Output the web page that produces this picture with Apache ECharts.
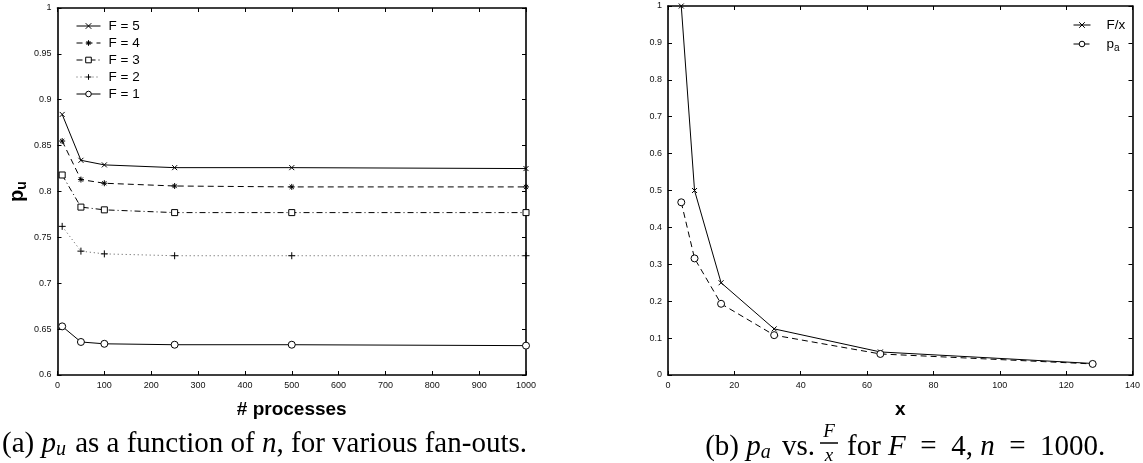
<!DOCTYPE html>
<html>
<head>
<meta charset="utf-8">
<script src="https://cdn.jsdelivr.net/npm/echarts@6/dist/echarts.min.js"></script>
<style>
html,body{margin:0;padding:0;background:#fff;}
#chart{width:1143px;height:463px;}
</style>
</head>
<body>
<div id="chart"></div>
<script>
// ---- Data (left panel: p_u vs number of processes) ----
const nProcesses = [10, 50, 100, 250, 500, 1000];
const puF5 = [0.884, 0.834, 0.829, 0.826, 0.826, 0.825];
const puF4 = [0.855, 0.813, 0.809, 0.806, 0.805, 0.805];
const puF3 = [0.818, 0.783, 0.780, 0.777, 0.777, 0.777];
const puF2 = [0.762, 0.735, 0.732, 0.730, 0.730, 0.730];
const puF1 = [0.653, 0.636, 0.634, 0.633, 0.633, 0.632];
const leftNames = ['F = 5', 'F = 4', 'F = 3', 'F = 2', 'F = 1'];

// ---- Data (right panel: p_a vs F/x) ----
const xVals = [4, 8, 16, 32, 64, 128];
const fOverX = [1, 0.5, 0.25, 0.125, 0.0625, 0.03125];
const paVals = [0.468, 0.316, 0.193, 0.108, 0.057, 0.030];
const rightNames = ['F/x', 'pa'];

const SANS = 'Liberation Sans, Arial, Helvetica, sans-serif';
const SERIF = 'Liberation Serif, Times New Roman, serif';

const pairs = (xs, ys) => xs.map((x, i) => [x, ys[i]]);

const SYM_X = 'path://M0,0L10,10M10,0L0,10';
const SYM_PLUS = 'path://M5,0L5,10M0,5L10,5';
const SYM_STAR = 'path://M5,0L5,10M0,5L10,5M1.5,1.5L8.5,8.5M8.5,1.5L1.5,8.5';
const SYM_SQUARE = 'path://M0,0L10,0L10,10L0,10Z';
const SYM_CIRCLE = 'path://M10,5A5,5,0,1,1,0,5A5,5,0,1,1,10,5Z';

const strokeSym = { color: 'rgba(0,0,0,0)', borderColor: '#000', borderWidth: 1 };
const hollowSym = { color: '#fff', borderColor: '#000', borderWidth: 1 };

function frameAxis(base, extra) {
  return Object.assign({
    type: 'value',
    axisLine: { show: true, onZero: false, lineStyle: { color: '#000', width: 1.6 } },
    axisTick: { show: true, inside: true, length: 4, lineStyle: { color: '#000', width: 1 } },
    splitLine: { show: false },
    axisLabel: { show: false }
  }, base, extra || {});
}
const tickLabel = {
  show: true, color: '#111', fontSize: 9, fontFamily: SANS, margin: 6,
  formatter: v => String(+(+v).toFixed(3))
};
const axisTitle = { fontFamily: SANS, fontWeight: 'bold', fontSize: 19, color: '#000' };

const chart = echarts.init(document.getElementById('chart'), null, { renderer: 'canvas' });

const option = {
  animation: false,
  backgroundColor: '#fff',
  grid: [
    { left: 57.5, right: 617, top: 8, bottom: 88 },
    { left: 668, right: 8, top: 6, bottom: 88 }
  ],
  xAxis: [
    frameAxis({ gridIndex: 0, position: 'bottom', min: 0, max: 1000, interval: 100 }, {
      axisLabel: tickLabel,
      name: '# processes', nameLocation: 'middle', nameGap: 25,
      nameTextStyle: Object.assign({ verticalAlign: 'top' }, axisTitle)
    }),
    frameAxis({ gridIndex: 0, position: 'top', min: 0, max: 1000, interval: 100 }),
    frameAxis({ gridIndex: 1, position: 'bottom', min: 0, max: 140, interval: 20 }, {
      axisLabel: tickLabel,
      name: 'x', nameLocation: 'middle', nameGap: 25,
      nameTextStyle: Object.assign({ verticalAlign: 'top' }, axisTitle)
    }),
    frameAxis({ gridIndex: 1, position: 'top', min: 0, max: 140, interval: 20 })
  ],
  yAxis: [
    frameAxis({ gridIndex: 0, position: 'left', min: 0.6, max: 1, interval: 0.05 }, {
      axisLabel: tickLabel,
      name: '{p|p}{s|u}', nameLocation: 'middle', nameGap: 28, nameRotate: 90,
      nameTextStyle: {
        rich: {
          p: { fontFamily: SANS, fontWeight: 'bold', fontSize: 20, color: '#000' },
          s: { fontFamily: SANS, fontWeight: 'bold', fontSize: 14, color: '#000', padding: [10, 0, 0, 0] }
        }
      }
    }),
    frameAxis({ gridIndex: 0, position: 'right', min: 0.6, max: 1, interval: 0.05 }),
    frameAxis({ gridIndex: 1, position: 'left', min: 0, max: 1, interval: 0.1 }, {
      axisLabel: tickLabel
    }),
    frameAxis({ gridIndex: 1, position: 'right', min: 0, max: 1, interval: 0.1 })
  ],
  legend: [
    {
      data: leftNames,
      orient: 'vertical', left: 71, top: 14,
      itemWidth: 24, itemHeight: 7, itemGap: 3,
      itemStyle: { borderWidth: 1 },
      lineStyle: { width: 1 },
      textStyle: { fontFamily: SANS, fontSize: 13.5, color: '#000', padding: [0, 0, 0, 3] },
      selectedMode: false
    },
    {
      data: rightNames,
      orient: 'vertical', left: 1068, top: 13,
      itemWidth: 17, itemHeight: 7, itemGap: 5,
      itemStyle: { borderWidth: 1 },
      lineStyle: { width: 1 },
      formatter: name => name === 'pa' ? '{n|p}{s|a}' : '{n|' + name + '}',
      textStyle: {
        fontFamily: SANS, fontSize: 13.5, color: '#000',
        rich: {
          n: { fontFamily: SANS, fontSize: 13.5, color: '#000', padding: [0, 0, 0, 11] },
          s: { fontFamily: SANS, fontSize: 10, color: '#000', padding: [8, 0, 0, 0] }
        }
      },
      selectedMode: false
    }
  ],
  series: [
    { name: leftNames[0], type: 'line', xAxisIndex: 0, yAxisIndex: 0, data: pairs(nProcesses, puF5),
      symbol: SYM_X, symbolSize: 5, itemStyle: strokeSym,
      lineStyle: { color: '#000', width: 1, type: 'solid' } },
    { name: leftNames[1], type: 'line', xAxisIndex: 0, yAxisIndex: 0, data: pairs(nProcesses, puF4),
      symbol: SYM_STAR, symbolSize: 6, itemStyle: strokeSym,
      lineStyle: { color: '#000', width: 1, type: [6, 4] } },
    { name: leftNames[2], type: 'line', xAxisIndex: 0, yAxisIndex: 0, data: pairs(nProcesses, puF3),
      symbol: SYM_SQUARE, symbolSize: 6, itemStyle: hollowSym,
      lineStyle: { color: '#000', width: 1, type: [6, 3, 1, 3] } },
    { name: leftNames[3], type: 'line', xAxisIndex: 0, yAxisIndex: 0, data: pairs(nProcesses, puF2),
      symbol: SYM_PLUS, symbolSize: 7, itemStyle: strokeSym,
      lineStyle: { color: '#555', width: 1, type: [1, 3] } },
    { name: leftNames[4], type: 'line', xAxisIndex: 0, yAxisIndex: 0, data: pairs(nProcesses, puF1),
      symbol: SYM_CIRCLE, symbolSize: 7, itemStyle: hollowSym,
      lineStyle: { color: '#000', width: 1, type: 'solid' } },
    { name: rightNames[0], type: 'line', xAxisIndex: 2, yAxisIndex: 2, data: pairs(xVals, fOverX),
      symbol: SYM_X, symbolSize: 5, itemStyle: strokeSym,
      lineStyle: { color: '#000', width: 1, type: 'solid' } },
    { name: rightNames[1], type: 'line', xAxisIndex: 2, yAxisIndex: 2, data: pairs(xVals, paVals),
      symbol: SYM_CIRCLE, symbolSize: 7, itemStyle: hollowSym,
      lineStyle: { color: '#000', width: 1, type: [6, 4] } }
  ],
  graphic: [
    {
      type: 'text', x: 2, y: 444,
      style: {
        text: '{r|(a) }{i|p}{s|u}{r| as a function of }{i|n}{r|, for various fan-outs.}',
        verticalAlign: 'middle', align: 'left',
        rich: {
          r: { fontFamily: SERIF, fontSize: 29, fill: '#000' },
          i: { fontFamily: SERIF, fontSize: 29, fontStyle: 'italic', fill: '#000' },
          s: { fontFamily: SERIF, fontSize: 20, fontStyle: 'italic', fill: '#000', padding: [12, 2, 0, 0] }
        }
      }
    },
    {
      type: 'text', x: 815, y: 447,
      style: {
        text: '{r|(b) }{i|p}{s|a}{r| vs.}',
        verticalAlign: 'middle', align: 'right',
        rich: {
          r: { fontFamily: SERIF, fontSize: 29, fill: '#000' },
          i: { fontFamily: SERIF, fontSize: 29, fontStyle: 'italic', fill: '#000' },
          s: { fontFamily: SERIF, fontSize: 20, fontStyle: 'italic', fill: '#000', padding: [12, 4, 0, 0] }
        }
      }
    },
    {
      type: 'text', x: 829, y: 432,
      style: { text: 'F', fontFamily: SERIF, fontSize: 19, fontStyle: 'italic', fill: '#000', align: 'center', verticalAlign: 'middle' }
    },
    {
      type: 'line', shape: { x1: 820, y1: 443, x2: 838, y2: 443 },
      style: { stroke: '#000', lineWidth: 1.5 }
    },
    {
      type: 'text', x: 829, y: 456,
      style: { text: 'x', fontFamily: SERIF, fontSize: 19, fontStyle: 'italic', fill: '#000', align: 'center', verticalAlign: 'middle' }
    },
    {
      type: 'text', x: 847, y: 447,
      style: {
        text: '{r|for }{i|F}{r|  =  4, }{i|n}{r|  =  1000.}',
        verticalAlign: 'middle', align: 'left',
        rich: {
          r: { fontFamily: SERIF, fontSize: 29, fill: '#000' },
          i: { fontFamily: SERIF, fontSize: 29, fontStyle: 'italic', fill: '#000' }
        }
      }
    }
  ]
};

chart.setOption(option);
</script>
</body>
</html>
